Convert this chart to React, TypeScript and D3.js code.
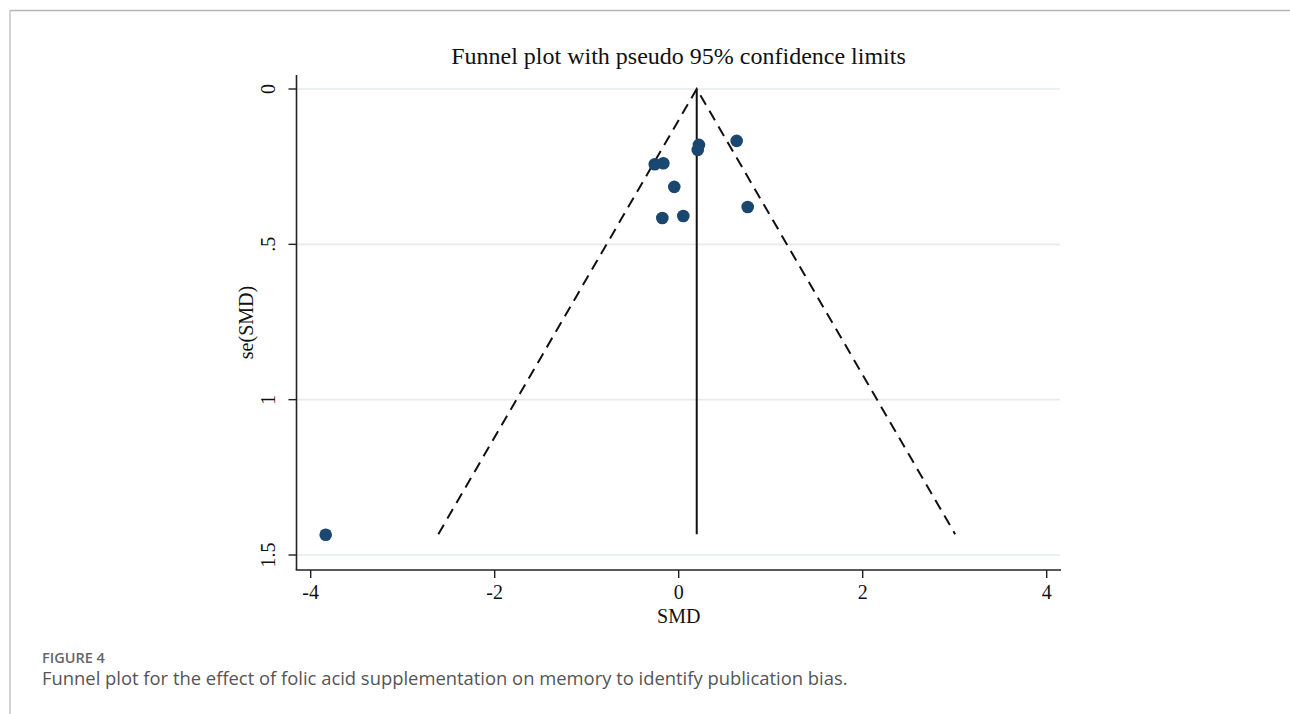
import React from "react";
import * as d3 from "d3";

const studySMD = [0.63, 0.22, 0.207, -0.26, -0.167, -0.048, -0.178, 0.05, 0.75, -3.837];
const studySE = [0.167, 0.18, 0.196, 0.242, 0.239, 0.315, 0.415, 0.409, 0.38, 1.435];
const pooledSMD = 0.196;
const maxSE = 1.433;
const xTicks = [-4, -2, 0, 2, 4];
const yTicks = [0, 0.5, 1, 1.5];
const yTickLabels = ["0", ".5", "1", "1.5"];
const titleText = "Funnel plot with pseudo 95% confidence limits";
const xTitle = "SMD";
const yTitle = "se(SMD)";
const figLabel = "FIGURE 4";
const captionText = "Funnel plot for the effect of folic acid supplementation on memory to identify publication bias.";

const W = 1290;
const H = 714;

export default function App() {
  const x = d3.scaleLinear().domain([-4, 4]).range([310.7, 1046.7]);
  const y = d3.scaleLinear().domain([0, 1.5]).range([89, 555]);
  const plotL = 296.5;
  const plotR = 1061;
  const plotT = 75;
  const plotB = 570;
  const serif = "'Liberation Serif', 'Times New Roman', serif";
  const sans = "'Open Sans', 'Noto Sans', sans-serif";
  const line = d3.line<[number, number]>().x((d) => x(d[0])).y((d) => y(d[1]));
  const lo = pooledSMD - 1.96 * maxSE;
  const hi = pooledSMD + 1.96 * maxSE;
  const navy = "#1a476f";

  return (
    <svg
      width={W}
      height={H}
      style={{ position: "absolute", left: 0, top: 0, display: "block", background: "#fff" }}
    >
      {/* frame */}
      <line x1={10} y1={10.5} x2={W} y2={10.5} stroke="#b5b5b5" strokeWidth={1.6} />
      <line x1={10} y1={10} x2={10} y2={H} stroke="#c8c8c8" strokeWidth={1.6} />

      {/* title */}
      <text x={678.5} y={64} textAnchor="middle" fontFamily={serif} fontSize={24} fill="#111">
        {titleText}
      </text>

      {/* grid */}
      {yTicks.map((t) => (
        <line key={"g" + t} x1={plotL} x2={plotR - 1} y1={y(t)} y2={y(t)} stroke="#e3ebec" strokeWidth={1.6} />
      ))}

      {/* funnel */}
      <path d={line([[lo, maxSE], [pooledSMD, 0], [hi, maxSE]]) || ""} fill="none" stroke="#111" strokeWidth={2} strokeDasharray="11,7" />
      <path d={line([[pooledSMD, 0], [pooledSMD, maxSE]]) || ""} fill="none" stroke="#111" strokeWidth={2} />

      {/* points */}
      {studySMD.map((v, i) => (
        <circle key={"p" + i} cx={x(v)} cy={y(studySE[i])} r={6.3} fill={navy} />
      ))}

      {/* axes */}
      <line x1={plotL} x2={plotL} y1={plotT} y2={plotB} stroke="#222" strokeWidth={1.6} />
      <line x1={plotL - 0.8} x2={plotR} y1={plotB} y2={plotB} stroke="#222" strokeWidth={1.6} />

      {yTicks.map((t, i) => (
        <g key={"yt" + t}>
          <line x1={plotL - 8} x2={plotL} y1={y(t)} y2={y(t)} stroke="#222" strokeWidth={1.4} />
          <text
            transform={`translate(${275},${y(t)}) rotate(-90)`}
            textAnchor="middle"
            fontFamily={serif}
            fontSize={20}
            fill="#111"
          >
            {yTickLabels[i]}
          </text>
        </g>
      ))}

      {xTicks.map((t) => (
        <g key={"xt" + t}>
          <line x1={x(t)} x2={x(t)} y1={plotB} y2={plotB + 8} stroke="#222" strokeWidth={1.4} />
          <text x={x(t)} y={599} textAnchor="middle" fontFamily={serif} fontSize={20} fill="#111">
            {t}
          </text>
        </g>
      ))}

      <text x={678.7} y={623} textAnchor="middle" fontFamily={serif} fontSize={20} fill="#111">
        {xTitle}
      </text>
      <text
        transform={`translate(${253},${(plotT + plotB) / 2}) rotate(-90)`}
        textAnchor="middle"
        fontFamily={serif}
        fontSize={20}
        fill="#111"
      >
        {yTitle}
      </text>

      {/* caption */}
      <text x={42} y={663} fontFamily={sans} fontSize={14.5} fontWeight={600} fill="#666">
        {figLabel}
      </text>
      <text x={42} y={685} fontFamily={sans} fontSize={18.4} fill="#555">
        {captionText}
      </text>
    </svg>
  );
}
